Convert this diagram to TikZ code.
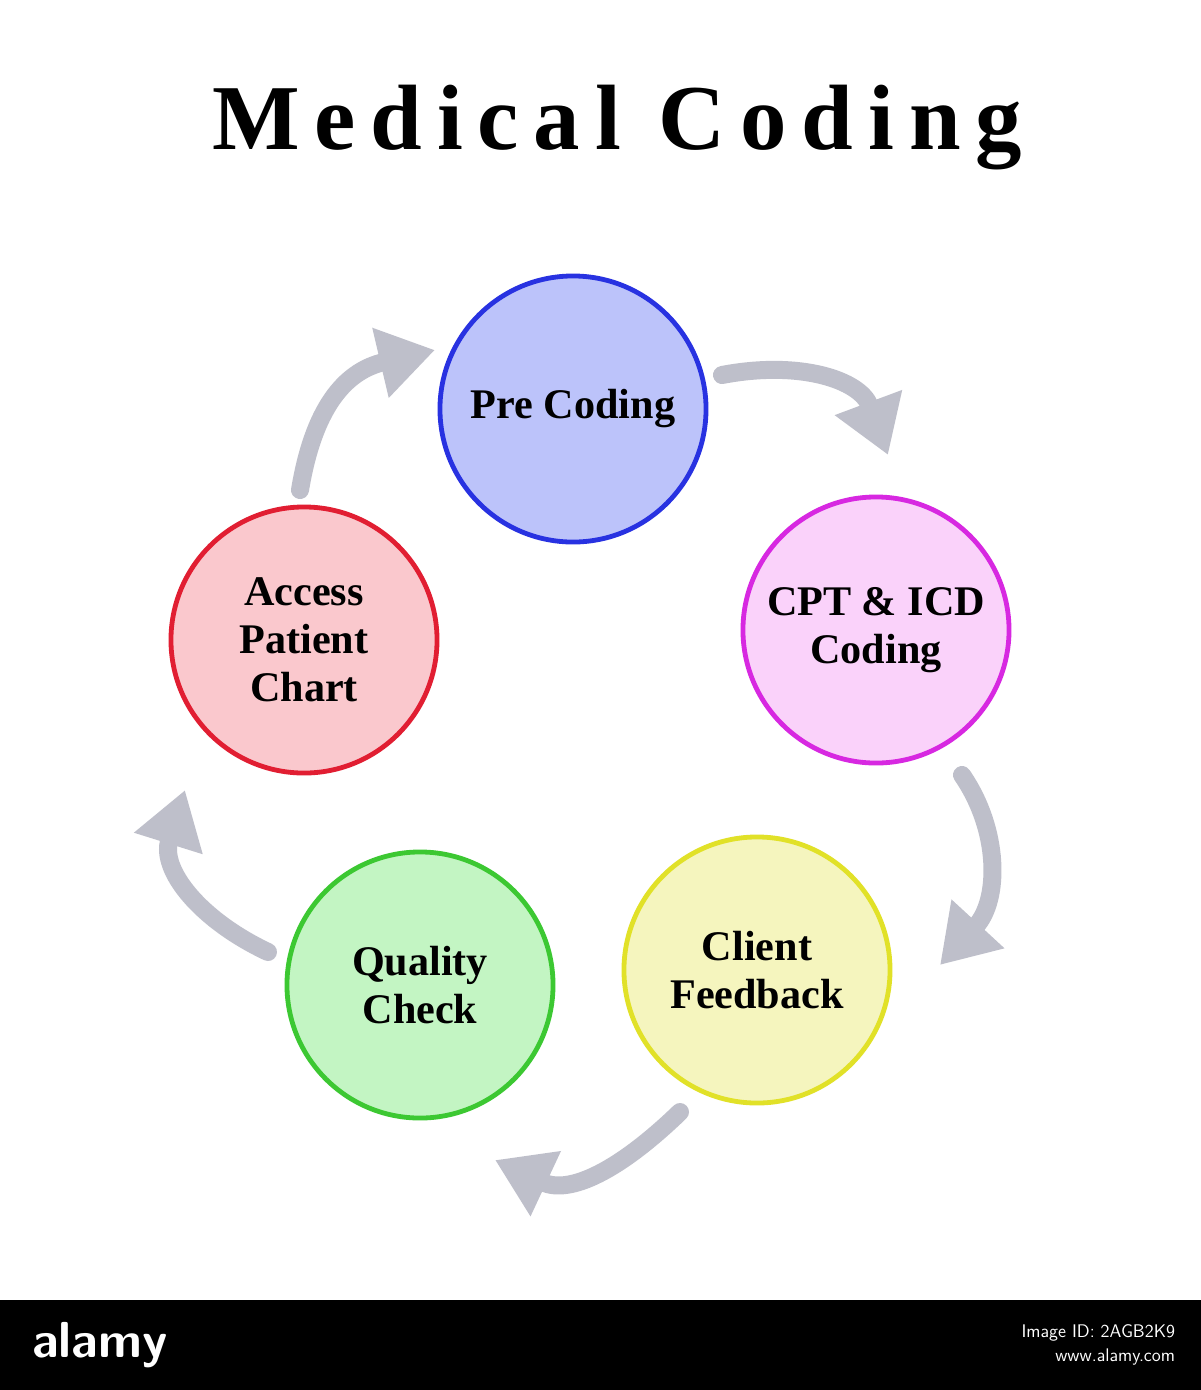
\documentclass[tikz,border=0pt]{standalone}
\usepackage{fontspec}
\setmainfont{Liberation Serif}
\newfontfamily\titlefont[LetterSpace=16]{Liberation Serif}
\usetikzlibrary{arrows.meta}
\definecolor{arrowgray}{RGB}{190,191,202}
\tikzset{
  stage/.style={circle, minimum size=6.65cm, line width=1.2mm, align=center,
    font=\fontsize{30}{34}\selectfont\bfseries},
  cycle/.style={arrowgray, line width=4.5mm, -{Triangle[length=14mm,width=17mm]}},
}
\begin{document}
\begin{tikzpicture}[x=0.025cm, y=-0.025cm, line cap=round, line join=round]
    % Rahmen
    \useasboundingbox (0,0) rectangle (1201,1390);
    \fill[white] (0,0) rectangle (1201,1300);
    \fill[black] (0,1300) rectangle (1201,1390);

    % Titel
    \node (title) at (617,128) {\titlefont\fontsize{66}{76}\selectfont\bfseries Medical Coding};

    % Kreise
    \node[stage, draw={rgb,255:red,40;green,50;blue,225}, fill={rgb,255:red,188;green,195;blue,250}] (pre) at (573,409) {Pre Coding};
    \node[stage, draw={rgb,255:red,215;green,40;blue,225}, fill={rgb,255:red,250;green,210;blue,250}] (cpt) at (876,630) {CPT \& ICD\\Coding};
    \node[stage, draw={rgb,255:red,225;green,225;blue,40}, fill={rgb,255:red,245;green,245;blue,190}] (client) at (757,970) {Client\\Feedback};
    \node[stage, draw={rgb,255:red,60;green,200;blue,50}, fill={rgb,255:red,195;green,245;blue,195}] (quality) at (420,985) {Quality\\Check};
    \node[stage, draw={rgb,255:red,225;green,30;blue,50}, fill={rgb,255:red,250;green,200;blue,205}] (access) at (304,640) {Access\\Patient\\Chart};

    % Pfeile
    \draw[cycle] (300,490) .. controls (315,400) and (350,370) .. (435,350);
    \draw[cycle] (722,375) .. controls (800,360) and (860,380) .. (888,455);
    \draw[cycle] (962,775) .. controls (1000,830) and (1000,900) .. (940,965);
    \draw[cycle] (680,1112) .. controls (620,1170) and (570,1195) .. (495,1160);
    \draw[cycle] (268,952) .. controls (200,920) and (160,870) .. (185,790);

    % Wasserzeichen
    \node[white, font=\fontsize{36}{40}\selectfont\bfseries\sffamily] (logo) at (100,1345) {alamy};
    \node[white, anchor=east, align=right, font=\fontsize{13}{17}\selectfont\sffamily] (imgid) at (1180,1345) {Image ID: 2AGB2K9\\www.alamy.com};
\end{tikzpicture}
\end{document}
